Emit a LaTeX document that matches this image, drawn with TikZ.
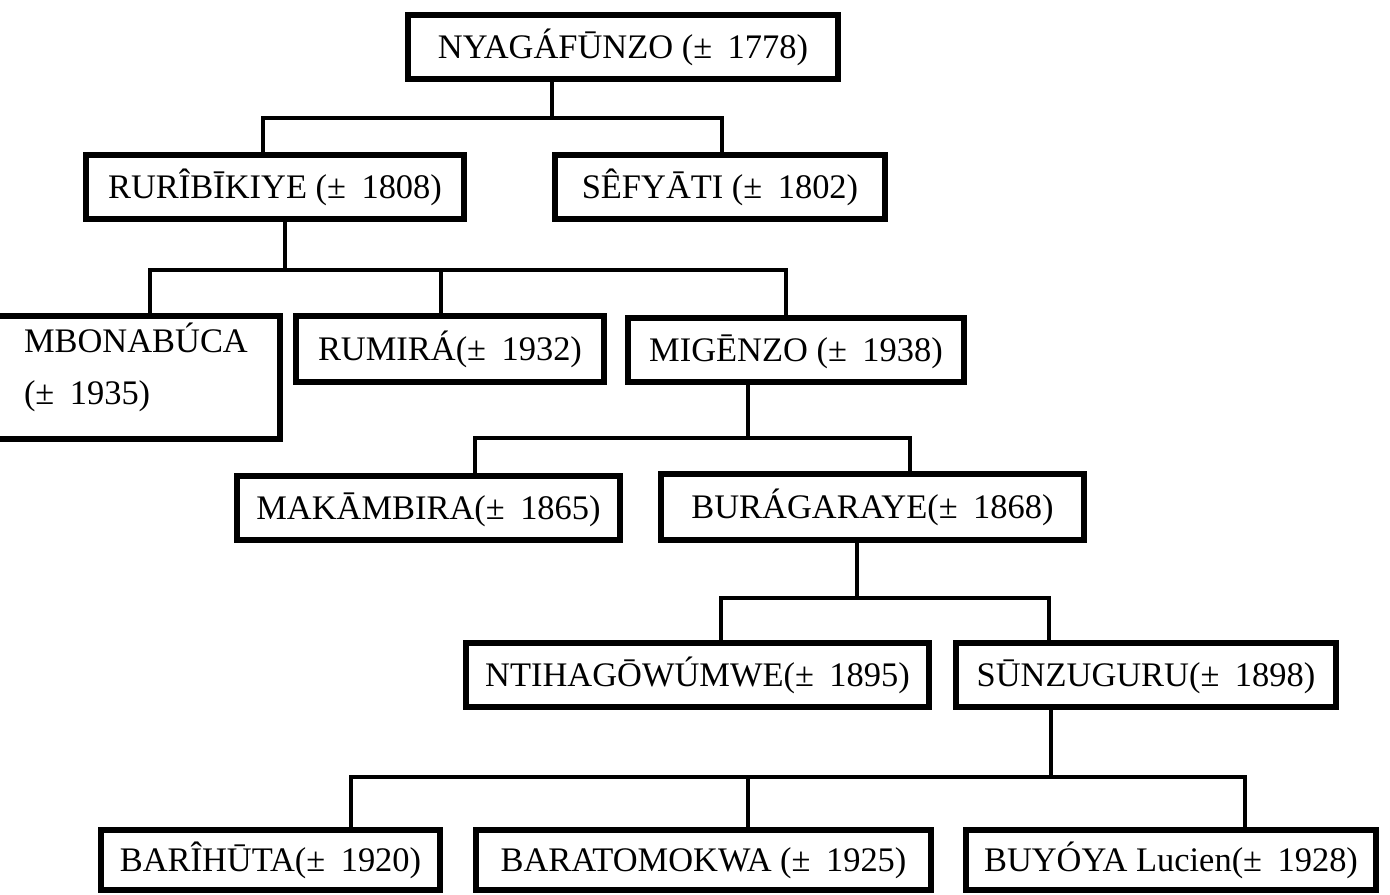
\documentclass[tikz,border=0pt]{standalone}
\usepackage{fontspec}
\setmainfont{Liberation Serif}
\usepackage{tikz}
\usetikzlibrary{positioning,calc}
\tikzset{
  person/.style = {draw, rectangle, line width=3.2pt, inner sep=0pt, align=center,
                   text height=15pt, text depth=2pt,
                   font=\fontsize{19.6}{24}\selectfont},
  link/.style   = {line width=2.5pt}
}
\newcommand{\yr}[1]{(±\hspace{0.45em}#1)}

\begin{document}
\begin{tikzpicture}[x=0.02cm,y=-0.02cm]
  \useasboundingbox (0,0) rectangle (1390,895);
  % the boxes, one row per generation
  \node[person, minimum width=8.6cm, minimum height=1.28cm] (nya) at (623,47) {NYAGÁFŪNZO \yr{1778}};
  \node[person, minimum width=7.56cm, minimum height=1.28cm] (rur) at (275,187) {RURÎBĪKIYE \yr{1808}};
  \node[person, minimum width=6.6cm, minimum height=1.28cm] (sef) at (720,187) {SÊFYĀTI \yr{1802}};
  \node[person, align=left, text width=4.3cm, inner xsep=0.82cm, minimum height=2.46cm,
        text depth=44pt] (mbo) at (131.5,377.5) {MBONABÚCA\\[6pt]\yr{1935}};
  \node[person, minimum width=6.16cm, minimum height=1.32cm] (rum) at (450,349) {RUMIRÁ\yr{1932}};
  \node[person, minimum width=6.72cm, minimum height=1.28cm] (mig) at (796,350) {MIGĒNZO \yr{1938}};
  \node[person, minimum width=7.66cm, minimum height=1.28cm] (mak) at (428.5,508) {MAKĀMBIRA\yr{1865}};
  \node[person, minimum width=8.46cm, minimum height=1.32cm] (bur) at (872.5,507) {BURÁGARAYE\yr{1868}};
  \node[person, minimum width=9.26cm, minimum height=1.28cm] (nti) at (697.5,675) {NTIHAGŌWÚMWE\yr{1895}};
  \node[person, minimum width=7.6cm, minimum height=1.28cm] (sun) at (1146,675) {SŪNZUGURU\yr{1898}};
  \node[person, minimum width=6.78cm, minimum height=1.2cm] (bah) at (270.5,860) {BARÎHŪTA\yr{1920}};
  \node[person, minimum width=9.1cm, minimum height=1.2cm] (bat) at (703.5,860) {BARATOMOKWA \yr{1925}};
  \node[person, minimum width=8.2cm, minimum height=1.2cm] (buy) at (1171,860) {BUYÓYA Lucien\yr{1928}};

  % junctions on the bars
  \coordinate (j1) at (552,118);
  \coordinate (j2) at (285,270);
  \coordinate (j3) at (748,438);
  \coordinate (j4) at (857,598);
  \coordinate (j5) at (1051,777);

  \draw[link] (nya.south -| j1) -- (j1);
  \draw[link] (rur.north -| 263,0) |- (j1) -| (sef.north -| 722,0);

  \draw[link] (rur.south -| j2) -- (j2);
  \draw[link] (mbo.north -| 150,0) |- (j2) -| (mig.north -| 786,0);
  \draw[link] (rum.north -| 441,0) |- (j2);

  \draw[link] (mig.south -| j3) -- (j3);
  \draw[link] (mak.north -| 475,0) |- (j3) -| (bur.north -| 910,0);

  \draw[link] (bur.south -| j4) -- (j4);
  \draw[link] (nti.north -| 721,0) |- (j4) -| (sun.north -| 1049,0);

  \draw[link] (sun.south -| j5) -- (j5);
  \draw[link] (bah.north -| 351,0) |- (j5) -| (buy.north -| 1245,0);
  \draw[link] (bat.north -| 748,0) |- (j5);
\end{tikzpicture}
\end{document}
